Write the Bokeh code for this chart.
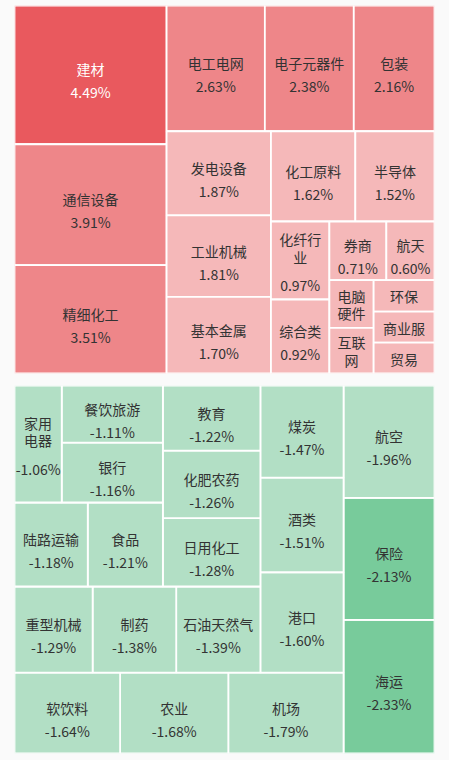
from bokeh.plotting import figure
from bokeh.models import ColumnDataSource, Range1d
from bokeh.layouts import column
from bokeh.embed import file_html
from bokeh.resources import INLINE
from bokeh.core.properties import value

# ---------------- data ----------------
up_names = ["建材", "通信设备", "精细化工", "电工电网", "电子元器件", "包装",
            "发电设备", "工业机械", "基本金属", "化工原料", "半导体", "化纤行业",
            "综合类", "券商", "航天", "电脑硬件", "互联网", "环保", "商业服", "贸易"]
up_values = [4.49, 3.91, 3.51, 2.63, 2.38, 2.16, 1.87, 1.81, 1.70, 1.62, 1.52,
             0.97, 0.92, 0.71, 0.60, 0.45, 0.43, 0.41, 0.40, 0.40]

down_names = ["海运", "保险", "航空", "机场", "农业", "软饮料", "港口", "酒类",
              "煤炭", "石油天然气", "制药", "重型机械", "日用化工", "化肥农药",
              "教育", "食品", "陆路运输", "银行", "餐饮旅游", "家用电器"]
down_values = [-2.33, -2.13, -1.96, -1.79, -1.68, -1.64, -1.60, -1.51, -1.47,
               -1.39, -1.38, -1.29, -1.28, -1.26, -1.22, -1.21, -1.18, -1.16,
               -1.11, -1.06]

# ---------------- style ----------------
W, H = 420, 368
FONT = "Noto Sans CJK SC"
FS = 14
BG = "#fafafa"
DARK_TXT = "#333333"


def fill_for(v):
    if v >= 4:
        return "#e9595e"
    if v >= 2:
        return "#ee8689"
    if v > 0:
        return "#f5b8b9"
    if v > -2:
        return "#b2dfc5"
    return "#78cb9b"


def text_color_for(v):
    return "#ffffff" if v >= 4 else DARK_TXT


# ---------------- squarified layout ----------------
def worst(row, side):
    s = sum(row)
    return max(max(side * side * r / (s * s), s * s / (side * side * r)) for r in row)


def squarify(areas, x, y, w, h, max_strip=3):
    rects = []
    i, n = 0, len(areas)
    while i < n:
        side = min(w, h)
        row = [areas[i]]
        j = i + 1
        while (j < n and len(row) < max_strip
               and worst(row + [areas[j]], side) <= worst(row, side)):
            row.append(areas[j])
            j += 1
        s = sum(row)
        if w >= h:  # strip along the height, at the left
            t = s / h
            yy = y
            for r in row:
                hh = r / t
                rects.append((x, x + t, yy, yy + hh))
                yy += hh
            x += t
            w -= t
        else:  # strip along the width, at the top
            t = s / w
            xx = x
            for r in row:
                ww = r / t
                rects.append((xx, xx + ww, y, y + t))
                xx += ww
            y += t
            h -= t
        i = j
    return rects


def wrap(name, width):
    per = max(1, int((width - 10) // FS))
    return [name[k:k + per] for k in range(0, len(name), per)]


def build(names, values, x_range, y_range, top_border, bottom_border):
    total = sum(abs(v) for v in values)
    areas = [abs(v) / total * W * H for v in values]
    rects = squarify(areas, 0.0, 0.0, W, H)

    cells = dict(l=[], r=[], t=[], b=[], c=[])
    labels = dict(x=[], y=[], txt=[], yoff=[], tc=[])
    for name, v, (x0, x1, y0, y1) in zip(names, values, rects):
        cells["l"].append(x0)
        cells["r"].append(x1)
        cells["t"].append(y0)
        cells["b"].append(y1)
        cells["c"].append(fill_for(v))
        cw, ch = x1 - x0, y1 - y0
        lines = wrap(name, cw)
        nl = len(lines)
        show_pct = (18 * nl + 24) <= ch - 4
        cx, cy = (x0 + x1) / 2, (y0 + y1) / 2
        tc = text_color_for(v)
        if show_pct:
            first = -5.5 - 16 * (nl - 1)
            for k, ln in enumerate(lines):
                labels["x"].append(cx); labels["y"].append(cy)
                labels["txt"].append(ln); labels["yoff"].append(first + 17.7 * k)
                labels["tc"].append(tc)
            labels["x"].append(cx); labels["y"].append(cy)
            labels["txt"].append(f"{v:.2f}%")
            labels["yoff"].append(17.5 + 7 * (nl - 1))
            labels["tc"].append(tc)
        else:
            for k, ln in enumerate(lines):
                labels["x"].append(cx); labels["y"].append(cy)
                labels["txt"].append(ln)
                labels["yoff"].append((k - (nl - 1) / 2) * 17.7 + 0.5)
                labels["tc"].append(tc)

    p = figure(frame_width=W, frame_height=H, x_range=x_range, y_range=y_range,
               toolbar_location=None, output_backend="svg",
               x_axis_location=None, y_axis_location=None,
               min_border_left=14, min_border_right=14,
               min_border_top=top_border, min_border_bottom=bottom_border,
               background_fill_color=BG, border_fill_color=BG,
               outline_line_color=None)
    p.xgrid.visible = False
    p.ygrid.visible = False
    p.quad(left="l", right="r", top="t", bottom="b", fill_color="c",
           line_color="#ffffff", line_width=1.8, source=ColumnDataSource(cells))
    p.text(x="x", y="y", text="txt", y_offset="yoff", text_color="tc",
           text_align="center", text_baseline="middle",
           text_font=value(FONT), text_font_size=f"{FS}px",
           source=ColumnDataSource(labels))
    return p


p_up = build(up_names, up_values, Range1d(0, W), Range1d(H, 0), 5, 6)
p_down = build(down_names, down_values, Range1d(W, 0), Range1d(0, H), 6, 5)

layout = column(p_up, p_down, spacing=0)
html = file_html(layout, INLINE, title="treemap")
html = html.replace("<head>", "<head><style>html,body{margin:0;padding:0;background:#fafafa;}</style>", 1)
open("out.html", "w").write(html)
